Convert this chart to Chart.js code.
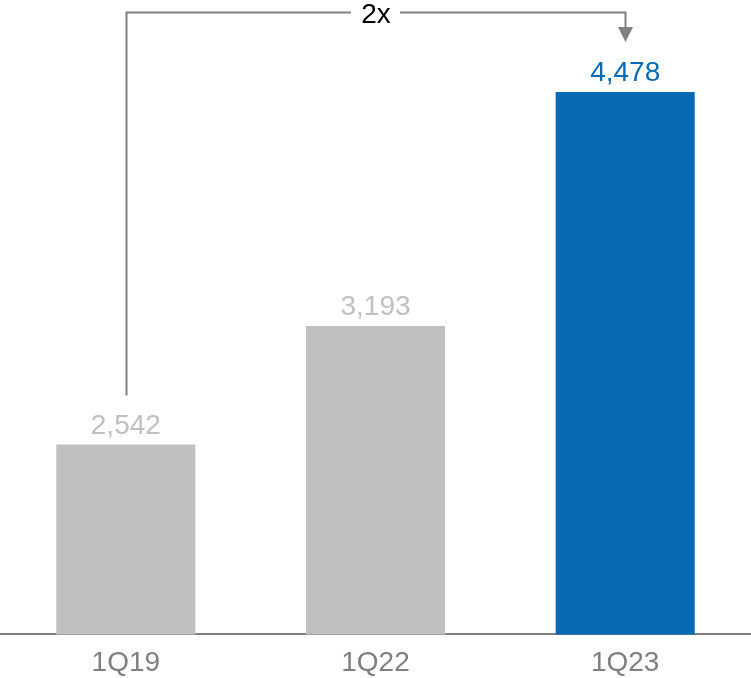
<!DOCTYPE html>
<html>
<head>
<meta charset="utf-8">
<script src="https://cdn.jsdelivr.net/npm/chart.js@4"></script>
<style>
  html, body { margin: 0; padding: 0; background: #fff; }
  #wrap { width: 751px; height: 678px; position: relative; }
</style>
</head>
<body>
<div id="wrap"><canvas id="chart"></canvas></div>
<script>
// data
const quarters = ['1Q19', '1Q22', '1Q23'];
const revenue = [2542, 3193, 4478];
const barColors = ['#c0c0c0', '#c0c0c0', '#066ab4'];
const labelColors = ['#c0c0c0', '#c0c0c0', '#066ab4'];
const growthText = '2x';

const FONT = '"Liberation Sans", Arial, sans-serif';

// value labels above each bar
const valueLabels = {
    id: 'valueLabels',
    afterDatasetsDraw(chart) {
        const ctx = chart.ctx;
        const bars = chart.getDatasetMeta(0).data;
        ctx.save();
        ctx.font = '28px ' + FONT;
        ctx.textAlign = 'center';
        ctx.textBaseline = 'alphabetic';
        bars.forEach((b, i) => {
            ctx.fillStyle = labelColors[i];
            ctx.fillText(revenue[i].toLocaleString('en-US'), b.x, b.y - 11);
        });
        ctx.restore();
    }
};

// bracket arrow from first to last bar
const growthBracket = {
    id: 'growthBracket',
    afterDatasetsDraw(chart) {
        const ctx = chart.ctx;
        const bars = chart.getDatasetMeta(0).data;
        const first = bars[0], last = bars[bars.length - 1];
        const topY = 12.5;
        const x1 = Math.round(first.x) + 0.5, x2 = Math.round(last.x) + 0.5;
        const y1 = first.y - 49, tipY = last.y - 50;
        const mid = (x1 + x2) / 2;
        ctx.save();
        ctx.strokeStyle = '#808080';
        ctx.lineWidth = 2;
        ctx.beginPath();
        ctx.moveTo(x1, y1);
        ctx.lineTo(x1, topY);
        ctx.lineTo(mid - 25, topY);
        ctx.moveTo(mid + 24, topY);
        ctx.lineTo(x2, topY);
        ctx.lineTo(x2, tipY - 12);
        ctx.stroke();
        ctx.fillStyle = '#808080';
        ctx.beginPath();
        ctx.moveTo(x2 - 7.5, tipY - 15);
        ctx.lineTo(x2 + 7.5, tipY - 15);
        ctx.lineTo(x2, tipY);
        ctx.closePath();
        ctx.fill();
        ctx.fillStyle = '#000';
        ctx.font = '28px ' + FONT;
        ctx.textAlign = 'center';
        ctx.textBaseline = 'alphabetic';
        ctx.fillText(growthText, mid, 23);
        ctx.restore();
    }
};

new Chart(document.getElementById('chart'), {
    type: 'bar',
    data: {
        labels: quarters,
        datasets: [{
            data: revenue,
            backgroundColor: barColors,
            borderWidth: 0,
            categoryPercentage: 1,
            barPercentage: 0.557
        }]
    },
    options: {
        responsive: true,
        maintainAspectRatio: false,
        animation: false,
        layout: { padding: { top: 15, left: 1, right: 1, bottom: 0 } },
        plugins: { legend: { display: false }, tooltip: { enabled: false } },
        scales: {
            x: {
                grid: { display: false, drawTicks: false },
                border: { display: true, color: '#808080', width: 2 },
                ticks: { color: '#808080', font: { family: FONT, size: 28 }, padding: 12 },
                afterFit(scale) { scale.height -= 14; }
            },
            y: {
                display: false,
                min: 1500,
                max: 4900
            }
        }
    },
    plugins: [valueLabels, growthBracket]
});
</script>
</body>
</html>
